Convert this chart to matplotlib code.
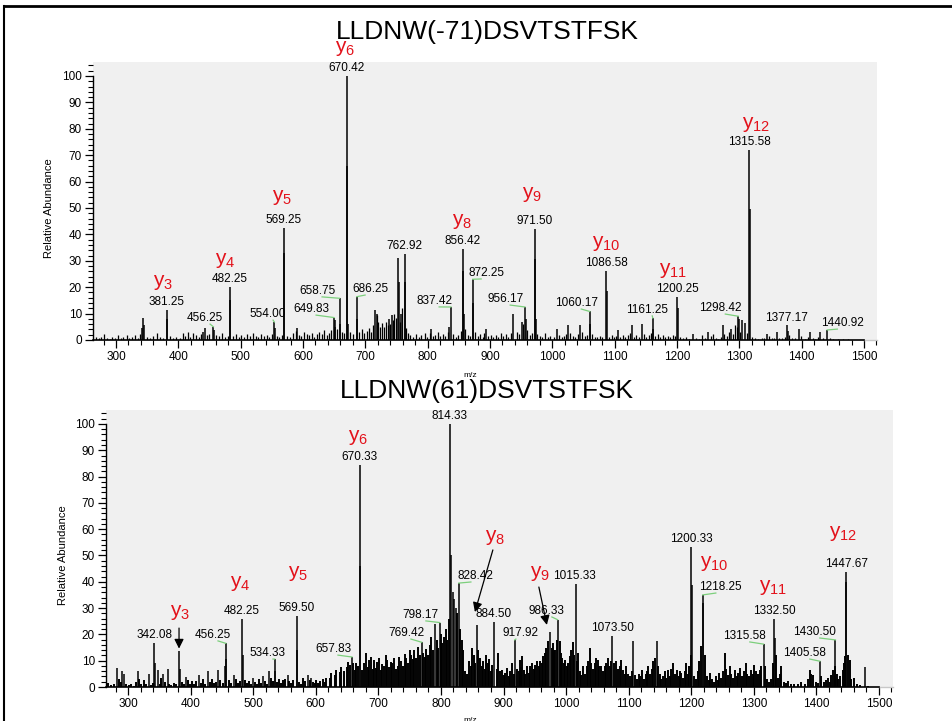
import matplotlib
matplotlib.use("Agg")
import matplotlib.pyplot as plt
from matplotlib.lines import Line2D
from matplotlib.ticker import MultipleLocator
from matplotlib.transforms import IdentityTransform
import numpy as np

plt.rcParams["font.family"] = ["Liberation Sans", "DejaVu Sans"]
plt.rcParams["mathtext.fontset"] = "custom"
plt.rcParams["mathtext.rm"] = "Liberation Sans"

# ---------------- top spectrum: LLDNW(-71)DSVTSTFSK ----------------
top_title = "LLDNW(-71)DSVTSTFSK"
top_peak_mz = [341.5, 343.2, 345.0, 381.25, 382.3, 440.0, 443.0, 456.25, 457.3, 482.25,
               483.3, 554.0, 555.2, 569.25, 570.3, 590.5, 649.83, 651.0, 652.0, 658.75,
               660.0, 670.42, 671.4, 673.0, 686.25, 687.3, 715.5, 719.5, 738.0, 742.0,
               752.6, 753.6, 757.5, 762.92, 763.9, 805.0, 834.5, 837.42, 856.42, 857.4,
               858.5, 872.25, 873.3, 894.0, 937.0, 951.0, 956.17, 957.2, 971.5, 972.5,
               973.6, 1007.0, 1025.5, 1044.8, 1060.17, 1061.2, 1086.58, 1087.6, 1105.7, 1127.8,
               1143.8, 1161.25, 1162.3, 1200.25, 1201.3, 1226.0, 1250.0, 1273.8, 1286.6, 1298.42,
               1299.4, 1304.3, 1309.6, 1315.58, 1316.6, 1344.0, 1360.5, 1377.17, 1378.2, 1396.0,
               1414.0, 1430.0, 1440.92]
top_peak_int = [4.4, 8.3, 5.5, 11.5, 7.8, 3.0, 4.6, 5.0, 3.8, 20.2,
                15.0, 6.8, 4.4, 42.3, 33.0, 4.4, 8.5, 7.4, 5.0, 15.8,
                6.0, 100.0, 66.0, 6.0, 16.4, 8.0, 11.5, 10.0, 8.0, 9.4,
                31.0, 22.0, 10.0, 32.5, 22.0, 4.0, 5.0, 12.5, 34.5, 26.0,
                10.0, 23.0, 14.0, 4.0, 10.0, 7.0, 12.5, 8.0, 42.0, 30.5,
                8.0, 4.3, 5.6, 5.6, 10.8, 6.0, 26.0, 18.5, 3.6, 5.6,
                6.0, 8.3, 4.0, 16.3, 12.3, 2.3, 3.0, 5.6, 4.3, 9.0,
                8.0, 7.4, 6.5, 71.8, 49.5, 2.3, 3.0, 5.6, 3.5, 4.3,
                3.0, 3.2, 3.8]
top_noise_mz = [268, 272, 276, 281, 285, 290, 294, 299, 304, 308, 312, 317, 321, 326, 330,
                335, 339, 350, 355, 360, 366, 370, 375, 387, 392, 397, 402, 407, 411, 415,
                419, 424, 428, 433, 437, 446, 450, 461, 466, 470, 475, 479, 488, 492, 497,
                501, 506, 510, 515, 519, 524, 528, 533, 537, 542, 546, 550, 558, 562, 566,
                575, 579, 584, 588, 593, 597, 601, 606, 610, 614, 618, 622, 626, 630, 634,
                638, 642, 645, 655, 662, 666, 676, 680, 690, 694, 698, 702, 706, 709, 712,
                718, 721, 724, 727, 730, 733, 736, 740, 744, 746, 750, 755, 759, 765, 768,
                772, 777, 781, 786, 790, 795, 799, 803, 808, 812, 816, 820, 824, 828, 832,
                841, 845, 849, 853, 860, 864, 868, 876, 880, 884, 888, 891, 897, 901, 905,
                909, 913, 917, 921, 925, 929, 933, 943, 947, 953, 960, 964, 968, 976, 980,
                984, 988, 993, 997, 1002, 1011, 1015, 1019, 1022, 1029, 1033, 1037, 1041, 1048, 1052,
                1056, 1064, 1068, 1072, 1076, 1080, 1091, 1095, 1099, 1102, 1109, 1113, 1117, 1121, 1124,
                1131, 1135, 1139, 1147, 1151, 1155, 1158, 1165, 1169, 1173, 1177, 1181, 1185, 1189, 1193,
                1197, 1205, 1210, 1215, 1220, 1231, 1236, 1240, 1245, 1254, 1258, 1262, 1266, 1270, 1276,
                1280, 1283, 1290, 1293, 1296, 1301, 1312, 1320, 1325, 1330, 1336, 1340, 1348, 1352, 1356,
                1364, 1369, 1374, 1380, 1384, 1390, 1399, 1405, 1410, 1418, 1422, 1426, 1434, 1445, 1450,
                1458, 1466, 1474]
top_noise_int = [1.2, 0.6, 1.0, 2.4, 0.8, 0.5, 1.1, 0.7, 1.8, 0.6, 1.3, 2.0, 0.7, 1.1, 1.9,
                 0.8, 2.2, 1.0, 0.6, 1.4, 2.6, 1.0, 0.7, 1.5, 0.6, 1.2, 0.8, 2.5, 1.6, 3.0,
                 1.0, 2.6, 2.0, 1.1, 2.4, 1.8, 2.2, 2.0, 1.4, 2.7, 1.1, 1.6, 1.4, 2.1, 1.2,
                 1.8, 1.0, 2.2, 1.4, 2.8, 1.6, 1.2, 2.3, 1.5, 1.9, 1.2, 2.4, 1.4, 1.0, 1.8,
                 1.6, 1.2, 2.8, 3.5, 2.0, 1.5, 3.0, 2.4, 1.8, 2.6, 1.3, 2.1, 2.9, 2.2, 3.6,
                 2.0, 2.8, 3.8, 4.0, 3.2, 2.5, 3.1, 2.4, 3.0, 4.2, 2.5, 3.4, 4.6, 3.2, 5.5,
                 9.5, 6.8, 5.0, 6.3, 5.0, 7.0, 5.5, 6.2, 7.5, 10.0, 8.5, 6.8, 12.0, 4.5, 2.8,
                 1.8, 1.2, 2.3, 1.1, 1.8, 2.5, 1.3, 2.8, 1.6, 2.0, 3.1, 1.7, 2.4, 1.5, 3.0,
                 2.2, 1.2, 2.0, 3.4, 4.0, 2.0, 1.6, 3.0, 1.5, 2.2, 1.2, 2.6, 1.4, 2.0, 1.1,
                 1.8, 1.3, 2.6, 1.6, 2.2, 1.2, 2.8, 3.2, 2.4, 6.0, 3.6, 2.0, 2.8, 2.2, 1.4,
                 1.1, 2.6, 1.2, 1.6, 1.1, 1.8, 1.0, 1.5, 2.4, 2.8, 1.6, 1.1, 2.2, 3.2, 1.5,
                 2.0, 2.4, 1.3, 1.0, 1.6, 1.1, 1.2, 2.0, 1.0, 1.6, 1.2, 2.0, 1.1, 1.8, 2.6,
                 1.3, 1.9, 1.1, 2.2, 1.3, 1.8, 2.8, 1.6, 2.2, 1.2, 1.8, 1.0, 1.6, 1.1, 2.0,
                 1.4, 1.0, 0.6, 1.0, 0.5, 0.8, 0.5, 1.8, 0.6, 1.4, 2.3, 0.8, 0.5, 1.0, 2.2,
                 1.5, 3.0, 2.2, 5.5, 4.8, 3.0, 2.6, 1.0, 0.6, 0.5, 0.7, 0.8, 1.6, 0.6, 0.8,
                 0.6, 0.8, 1.2, 2.0, 0.6, 0.8, 1.6, 0.5, 1.0, 0.8, 0.5, 1.2, 0.8, 0.6, 0.4,
                 0.5, 0.4, 0.3]
top_labels = [381.25, 456.25, 482.25, 554.00, 569.25, 649.83, 658.75, 670.42, 686.25, 762.92,
              837.42, 856.42, 872.25, 956.17, 971.50, 1060.17, 1086.58, 1161.25, 1200.25,
              1298.42, 1315.58, 1377.17, 1440.92]
top_ions = ["3", "4", "5", "6", "8", "9", "10", "11", "12"]

# ---------------- bottom spectrum: LLDNW(61)DSVTSTFSK ----------------
bot_title = "LLDNW(61)DSVTSTFSK"
bot_peak_mz = [282.0, 290.4, 294.0, 315.5, 333.5, 342.08, 343.1, 347.4, 356.4, 363.4,
               381.5, 382.5, 392.6, 413.9, 427.3, 443.3, 455.3, 456.25, 457.3, 469.8,
               482.25, 483.3, 499.2, 515.0, 525.8, 534.33, 535.3, 555.0, 569.5, 570.5,
               587.0, 592.0, 657.83, 670.33, 671.4, 769.42, 790.9, 798.17, 814.33, 816.0,
               818.7, 821.0, 824.0, 828.42, 857.5, 884.5, 917.92, 974.0, 986.33, 1015.33,
               1073.5, 1107.3, 1144.7, 1200.33, 1201.4, 1218.25, 1219.3, 1315.58, 1332.5, 1333.5,
               1405.58, 1430.5, 1446.6, 1447.67, 1477.0]
bot_peak_int = [7.1, 5.9, 5.0, 5.9, 5.0, 16.6, 9.0, 6.5, 5.0, 7.0,
                13.7, 7.0, 3.9, 4.6, 5.9, 6.5, 8.0, 16.6, 10.5, 4.6,
                26.0, 12.0, 3.4, 4.0, 6.0, 10.6, 6.0, 4.6, 27.0, 14.0,
                4.6, 3.5, 11.4, 84.5, 46.0, 17.0, 24.0, 24.5, 100.0, 50.0,
                36.0, 33.6, 30.0, 39.5, 23.6, 24.6, 17.9, 21.0, 25.6, 39.0,
                19.3, 17.4, 17.4, 53.2, 38.6, 35.0, 32.0, 16.3, 25.9, 18.6,
                9.8, 17.9, 40.0, 43.7, 7.5]
bot_noise_mz = [268, 272, 277, 285, 288, 297, 301, 305, 309, 312, 318, 321, 325, 329, 337,
                340, 351, 353, 359, 366, 369, 373, 377, 386, 389, 396, 399, 403, 406, 409,
                417, 420, 423, 431, 434, 437, 440, 447, 451, 462, 465, 473, 476, 479, 487,
                490, 493, 496, 503, 506, 509, 512, 519, 522, 529, 531, 538, 541, 544, 548,
                551, 558, 561, 564, 574, 577, 580, 583, 590, 595, 598, 601, 604, 607, 611,
                614, 617, 622, 624, 630, 632, 638, 640, 645, 650, 652, 655, 660, 662, 664,
                667, 674, 677, 680, 683, 685, 688, 691, 693, 696, 698, 701, 704, 706, 709,
                712, 714, 717, 720, 722, 725, 728, 731, 733, 736, 739, 742, 744, 747, 750,
                752, 755, 757, 760, 763, 766, 772, 774, 776, 779, 782, 784, 787, 793, 795,
                800, 802, 805, 808, 810, 813, 826, 831, 833, 836, 839, 842, 845, 848, 850,
                853, 855, 860, 862, 865, 868, 870, 872, 875, 877, 880, 882, 889, 891, 894,
                897, 900, 902, 905, 908, 910, 913, 916, 922, 924, 926, 928, 930, 933, 935,
                937, 940, 942, 945, 948, 950, 953, 956, 958, 961, 963, 966, 968, 971, 977,
                979, 981, 983, 985, 990, 992, 994, 996, 998, 1001, 1003, 1006, 1008, 1011, 1013,
                1017, 1019, 1022, 1024, 1027, 1030, 1033, 1035, 1038, 1040, 1043, 1046, 1048, 1051, 1053,
                1056, 1059, 1062, 1064, 1067, 1070, 1072, 1077, 1080, 1083, 1086, 1088, 1091, 1094, 1096,
                1099, 1102, 1105, 1110, 1113, 1116, 1118, 1121, 1124, 1127, 1129, 1131, 1134, 1137, 1139,
                1142, 1147, 1150, 1152, 1155, 1158, 1160, 1163, 1166, 1168, 1171, 1174, 1177, 1180, 1182,
                1184, 1187, 1190, 1192, 1195, 1197, 1199, 1205, 1208, 1211, 1213, 1216, 1222, 1225, 1228,
                1230, 1233, 1236, 1239, 1242, 1245, 1248, 1251, 1254, 1256, 1259, 1262, 1264, 1267, 1270,
                1273, 1275, 1278, 1281, 1284, 1287, 1289, 1292, 1295, 1298, 1301, 1303, 1306, 1310, 1312,
                1318, 1321, 1325, 1328, 1331, 1336, 1339, 1342, 1344, 1348, 1352, 1355, 1360, 1365, 1370,
                1376, 1381, 1386, 1389, 1392, 1395, 1399, 1402, 1408, 1412, 1416, 1419, 1421, 1424, 1427,
                1429, 1433, 1435, 1438, 1442, 1444, 1445.5, 1450, 1453, 1456, 1460, 1465, 1470, 1483]
bot_noise_int = [1.5, 0.6, 1.0, 3.2, 2.0, 1.0, 0.6, 1.2, 0.5, 2.0, 3.0, 1.2, 2.5, 1.0, 0.8,
                 1.5, 1.2, 3.5, 2.0, 1.0, 0.6, 1.5, 1.0, 2.0, 1.0, 2.6, 1.2, 2.2, 1.0, 2.4,
                 1.5, 3.2, 1.2, 1.8, 3.0, 1.4, 2.0, 2.5, 1.6, 2.6, 1.4, 3.0, 1.6, 2.2, 2.8,
                 1.5, 2.2, 1.0, 2.0, 1.2, 3.0, 1.6, 2.2, 1.2, 3.5, 2.4, 2.0, 3.0, 1.5, 2.5,
                 3.2, 2.4, 1.6, 2.8, 2.0, 1.2, 3.5, 2.4, 2.6, 2.0, 1.4, 2.8, 1.6, 2.2, 3.2,
                 2.0, 3.6, 3.4, 5.4, 4.6, 6.5, 5.6, 7.5, 6.0, 7.6, 9.5, 8.2, 9.0, 6.4, 9.2,
                 8.0, 6.5, 9.0, 13.0, 7.5, 10.2, 11.4, 6.8, 10.3, 7.2, 9.4, 10.9, 6.5, 8.6, 8.0,
                 12.0, 10.3, 7.5, 9.6, 9.0, 11.0, 7.0, 8.0, 11.5, 9.8, 8.0, 12.5, 10.9, 9.0, 14.0,
                 12.0, 10.5, 14.0, 11.0, 15.3, 12.0, 13.0, 11.5, 14.6, 12.0, 16.0, 19.0, 14.0, 18.0, 15.0,
                 20.0, 16.6, 19.0, 22.0, 18.0, 26.0, 28.0, 22.0, 18.0, 14.0, 6.0, 5.0, 10.0, 8.0, 15.0,
                 12.0, 9.0, 14.0, 11.0, 8.0, 10.0, 7.0, 12.0, 9.0, 10.8, 6.0, 8.5, 7.0, 13.0, 6.0,
                 6.6, 4.5, 5.5, 7.1, 4.0, 6.0, 9.0, 5.0, 7.0, 6.0, 10.4, 7.5, 11.7, 6.5, 5.0,
                 7.8, 5.5, 8.0, 9.0, 7.0, 8.5, 9.8, 8.0, 10.0, 9.0, 11.7, 13.0, 14.8, 17.4, 15.0,
                 16.9, 14.0, 14.2, 18.0, 17.4, 13.0, 11.0, 9.0, 10.4, 8.0, 9.0, 11.7, 14.0, 17.0, 12.0,
                 10.0, 13.0, 6.0, 4.5, 7.8, 5.0, 8.0, 10.0, 14.8, 9.0, 7.0, 9.0, 11.0, 10.4, 8.0,
                 7.8, 6.0, 8.0, 9.0, 11.0, 8.0, 10.0, 9.0, 9.8, 7.0, 8.0, 10.4, 6.5, 5.0, 7.8,
                 5.0, 4.0, 6.0, 4.5, 3.0, 5.0, 4.0, 6.6, 3.0, 5.0, 6.0, 7.8, 5.0, 7.0, 9.8,
                 11.0, 8.0, 5.0, 3.0, 4.0, 6.0, 3.5, 6.6, 4.0, 7.0, 9.0, 5.0, 6.6, 4.0, 6.0,
                 5.3, 3.5, 6.0, 9.0, 5.0, 8.0, 12.3, 4.0, 3.0, 6.0, 10.0, 15.4, 12.0, 4.0, 2.5,
                 5.3, 3.0, 2.0, 4.0, 2.5, 5.3, 3.5, 6.0, 13.0, 7.0, 4.5, 7.8, 5.0, 3.5, 6.6,
                 4.0, 5.5, 7.1, 4.0, 6.0, 9.0, 5.0, 4.0, 6.6, 5.0, 8.5, 6.0, 5.0, 6.6, 8.0,
                 7.8, 3.0, 2.0, 3.0, 9.0, 12.0, 3.5, 5.0, 7.8, 2.0, 1.5, 2.1, 1.2, 1.2, 1.0,
                 1.8, 1.0, 3.0, 6.6, 5.0, 4.6, 2.0, 1.5, 4.0, 2.0, 2.8, 3.5, 2.0, 4.6, 6.6,
                 8.0, 5.0, 3.0, 4.0, 6.6, 9.0, 11.7, 12.0, 10.4, 3.0, 3.4, 1.0, 0.8, 0.5]
bot_labels = [342.08, 456.25, 482.25, 534.33, 569.50, 657.83, 670.33, 769.42, 798.17, 814.33,
              828.42, 884.50, 917.92, 986.33, 1015.33, 1073.50, 1200.33, 1218.25, 1315.58,
              1332.50, 1405.58, 1430.50, 1447.67]
bot_ions = ["3", "4", "5", "6", "8", "9", "10", "11", "12"]

# ---------------- layout (label placement, not data) ----------------
# displaced peak labels: centre (m/z, %), and whether a green leader is drawn
top_moved = {456.25: (442.9, 8.3, True), 554.00: (544.0, 9.8, True), 649.83: (613.0, 11.7, True),
             658.75: (622.6, 18.6, True), 686.25: (707.7, 19.3, True), 837.42: (810.4, 14.8, True),
             872.25: (893.9, 25.4, True), 956.17: (924.4, 15.5, True), 1060.17: (1038.4, 14.0, True),
             1161.25: (1152.3, 11.4, True), 1298.42: (1269.5, 12.1, True), 1440.92: (1465.3, 6.4, True),
             1377.17: (1375.4, 8.3, False)}
bot_moved = {456.25: (435.8, 19.8, True), 534.33: (523.6, 12.9, True), 657.83: (627.5, 14.4, True),
             769.42: (744.1, 20.5, True), 798.17: (768.0, 27.4, True), 828.42: (855.9, 42.2, True),
             917.92: (927.8, 20.5, True), 986.33: (969.3, 28.9, True), 1218.25: (1247.3, 38.0, True),
             1315.58: (1285.6, 19.4, True), 1430.50: (1397.4, 20.9, True), 1405.58: (1381.5, 12.9, True),
             1015.33: (1014.0, 42.2, False)}
top_ion_xy = [(375.4, 21.6), (475.0, 30.3), (566.5, 53.8), (667.6, 110.6), (855.4, 44.7),
              (967.7, 55.3), (1086.5, 36.7), (1194.0, 26.5), (1327.0, 81.8)]
bot_ion_xy = [(383.0, 28.5), (479.0, 39.5), (571.6, 43.3), (667.4, 95.0), (886.0, 57.0),
              (958.0, 43.3), (1236.0, 47.1), (1330.0, 38.0), (1442.0, 58.2)]
bot_arrows = [((381.5, 22.4), (381.5, 14.6)), ((883.0, 52.1), (854.3, 28.5)),
              ((956.5, 38.0), (969.3, 23.6))]

RED = "#e3121b"
GREEN = "#7ccf7c"


def draw_panel(ax, peak_mz, peak_int, noise_mz, noise_int, labels, moved,
               ions, ion_xy, xlim, lw):
    ax.set_facecolor("#f0f0f0")
    ax.set_xlim(*xlim)
    ax.set_ylim(0, 105.3)
    ax.vlines(noise_mz, 0, noise_int, color="black", lw=lw)
    ax.vlines(peak_mz, 0, peak_int, color="black", lw=1.1)

    for s in ["top", "right"]:
        ax.spines[s].set_visible(False)
    ax.spines["left"].set_bounds(0, 100)
    ax.spines["bottom"].set_bounds(xlim[0], 1500)
    ax.spines["left"].set_linewidth(1.0)
    ax.spines["bottom"].set_linewidth(1.2)
    ax.plot([1500, xlim[1]], [0, 0], color="#c8c8c8", lw=1.0, clip_on=False)

    ax.xaxis.set_minor_locator(MultipleLocator(20))
    ax.yaxis.set_minor_locator(MultipleLocator(2))
    ax.set_xticks(range(300, 1501, 100))
    ax.set_yticks(range(0, 101, 10))
    ax.tick_params(which="major", length=6, width=0.9, labelsize=8.5, pad=2)
    ax.tick_params(which="minor", length=3.5, width=0.8)
    ax.set_ylabel("Relative Abundance", fontsize=8)
    ax.set_xlabel("m/z", fontsize=6)

    peak_mz = np.asarray(peak_mz)
    for v in labels:
        i = np.argmin(np.abs(peak_mz - v))
        px, py = peak_mz[i], peak_int[i]
        txt = f"{v:.2f}"
        if v in moved:
            lx, ly, lead = moved[v]
            ax.text(lx, ly, txt, ha="center", va="center", fontsize=8.5)
            if lead:
                p = ax.transData.transform((px, py))
                q = ax.transData.transform((lx, ly))
                sx = q[0] + (5 if p[0] > q[0] else -5)
                ax.add_line(Line2D([sx, p[0]], [q[1] - 6, p[1]], color=GREEN, lw=0.9,
                                   transform=IdentityTransform()))
        else:
            ax.annotate(txt, (px, py), xytext=(0, 8), textcoords="offset pixels",
                        ha="center", va="center", fontsize=8.5)

    for n, (x, y) in zip(ions, ion_xy):
        ax.text(x, y, r"y$_{\mathregular{%s}}$" % n, color=RED, fontsize=15,
                ha="center", va="center", clip_on=False)


W, H = 952, 721
fig = plt.figure(figsize=(W / 100, H / 100), dpi=100)

ax1 = fig.add_axes([93 / W, 1 - 340 / H, 784 / W, 278 / H])
draw_panel(ax1, top_peak_mz, top_peak_int, top_noise_mz, top_noise_int, top_labels,
           top_moved, top_ions, top_ion_xy, (263.1, 1520.9), 0.9)
ax1.yaxis.set_label_coords(-0.05, 0.475)
ax1.xaxis.set_label_coords(0.481, -0.115)

ax2 = fig.add_axes([106 / W, 1 - 687 / H, 787 / W, 277 / H])
draw_panel(ax2, bot_peak_mz, bot_peak_int, bot_noise_mz, bot_noise_int, bot_labels,
           bot_moved, bot_ions, bot_ion_xy, (264.8, 1522.4), 1.4)
ax2.yaxis.set_label_coords(-0.048, 0.477)
ax2.xaxis.set_label_coords(0.4625, -0.108)
for tail, head in bot_arrows:
    ax2.annotate("", xy=head, xytext=tail,
                 arrowprops=dict(arrowstyle="-|>", color="black", lw=0.9,
                                 mutation_scale=14, shrinkA=0, shrinkB=0))

fig.text(487 / W, 1 - 32 / H, top_title, ha="center", va="center", fontsize=19)
fig.text(487 / W, 1 - 391 / H, bot_title, ha="center", va="center", fontsize=19)

# frame lines at the top and left edge
fig.add_artist(Line2D([4 / W, 1], [1 - 6 / H, 1 - 6 / H], color="black", lw=2,
                      transform=fig.transFigure))
fig.add_artist(Line2D([4 / W, 4 / W], [0, 1 - 6 / H], color="black", lw=1.5,
                      transform=fig.transFigure))

fig.savefig("out.png", dpi=100)
